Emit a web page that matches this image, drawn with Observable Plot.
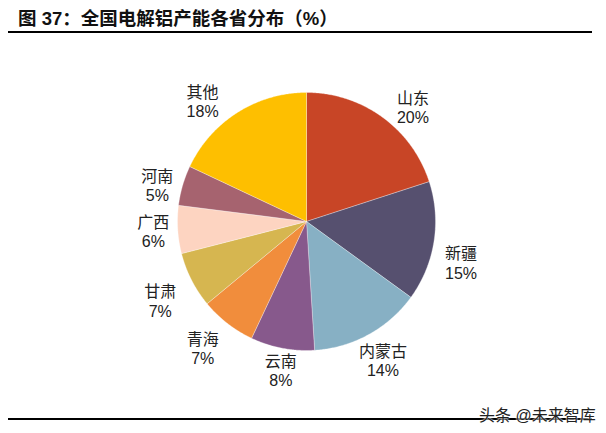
<!DOCTYPE html>
<html>
<head>
<meta charset="utf-8">
<script src="https://cdn.jsdelivr.net/npm/d3@7"></script>
<script src="https://cdn.jsdelivr.net/npm/@observablehq/plot@0.6"></script>
<style>
  html, body { margin: 0; padding: 0; background: #fff; }
  #wrap { position: relative; width: 606px; height: 433px; overflow: hidden; font-family: "Liberation Sans", "Noto Sans CJK SC", sans-serif; }
  #title { position: absolute; left: 18px; top: 4px; font-size: 18.5px; font-weight: bold; color: #111; font-family: "Liberation Sans", "Noto Sans CJK SC", sans-serif; white-space: nowrap; }
  #topline { position: absolute; left: 8px; top: 31px; width: 584px; height: 2px; background: #000; }
  #botline { position: absolute; left: 8px; top: 418px; width: 584px; height: 1.5px; background: #000; }
  #mark { position: absolute; left: 479px; top: 402px; font-size: 16px; color: #222; white-space: nowrap; text-shadow: 0 0 2px #fff, 0 0 2px #fff; }
  #chart { position: absolute; left: 0; top: 0; }
</style>
</head>
<body>
<div id="wrap">
  <div id="chart"></div>
  <div id="title">图 37：全国电解铝产能各省分布（%）</div>
  <div id="topline"></div>
  <div id="botline"></div>
  <div id="mark">头条 @未来智库</div>
</div>
<script>
// ---- data ----
const provinces = ["山东", "新疆", "内蒙古", "云南", "青海", "甘肃", "广西", "河南", "其他"];
const shares = [20, 15, 14, 8, 7, 7, 6, 5, 18];

// ---- style / layout ----
const sliceColors = ["#C84526", "#56506F", "#87B0C4", "#87598C", "#F18D3C", "#D6B650", "#FDD4C1", "#A6636F", "#FEBF00"];
const W = 606, H = 433;
const cx = 306, cy = 221, R = 129;
// label placement (best-fit style): angle nudge in degrees, distance in radii
const labelAngleNudge = [7, 6, 0, -1, 1.5, -1.5, 0, -2.5, -8.5];
const labelDist = [1.21, 1.24, 1.23, 1.17, 1.27, 1.29, 1.19, 1.19, 1.23];

const arcs = d3.pie().sort(null)(shares);
const polys = [];
const labels = [];
arcs.forEach((a, i) => {
  const name = provinces[i];
  polys.push({name, x: 0, y: 0});
  const steps = Math.max(2, Math.ceil((a.endAngle - a.startAngle) / (Math.PI / 360)));
  for (let k = 0; k <= steps; k++) {
    const t = a.startAngle + (a.endAngle - a.startAngle) * k / steps;
    polys.push({name, x: Math.sin(t), y: Math.cos(t)});
  }
  polys.push({name, x: 0, y: 0});
  const m = (a.startAngle + a.endAngle) / 2 + labelAngleNudge[i] * Math.PI / 180;
  labels.push({name, text: name + "\n" + shares[i] + "%", x: labelDist[i] * Math.sin(m), y: labelDist[i] * Math.cos(m)});
});

const chart = Plot.plot({
  width: W, height: H,
  margin: 0,
  style: {fontFamily: '"Liberation Sans", "Noto Sans CJK SC", sans-serif', background: "transparent"},
  x: {domain: [-cx / R, (W - cx) / R], axis: null},
  y: {domain: [-(H - cy) / R, cy / R], axis: null},
  color: {domain: provinces, range: sliceColors},
  marks: [
    Plot.line(polys, {x: "x", y: "y", z: "name", fill: "name", stroke: "#ffffff", strokeWidth: 0.5, strokeOpacity: 0.6, curve: "linear"}),
    Plot.text(labels, {x: "x", y: "y", text: "text", fontSize: 16, lineHeight: 1.2, fill: "#222"})
  ]
});
document.getElementById("chart").appendChild(chart);
</script>
</body>
</html>
